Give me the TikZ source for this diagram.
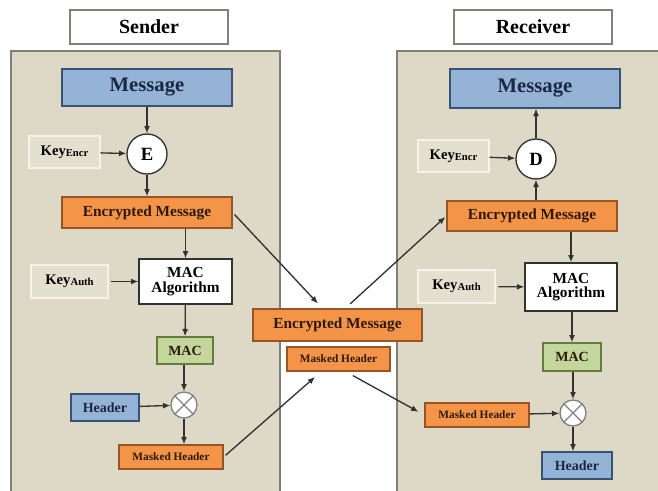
\documentclass[tikz,border=0pt]{standalone}
\usepackage{fontspec}
\setmainfont{Liberation Serif}
\usetikzlibrary{arrows.meta}

\definecolor{panelfill}{RGB}{221,217,198}
\definecolor{paneledge}{RGB}{128,128,122}
\definecolor{bluefill}{RGB}{149,179,215}
\definecolor{blueedge}{RGB}{56,82,115}
\definecolor{orangefill}{RGB}{244,148,72}
\definecolor{orangeedge}{RGB}{150,85,35}
\definecolor{greenfill}{RGB}{195,214,155}
\definecolor{greenedge}{RGB}{100,125,60}
\definecolor{keyfill}{RGB}{228,224,207}
\definecolor{keyedge}{RGB}{245,243,235}
\definecolor{navytext}{RGB}{28,40,66}
\definecolor{browntext}{RGB}{45,25,10}
\definecolor{linegray}{RGB}{50,50,50}

\tikzset{every picture/.style={line width=0.75pt}}
\tikzset{
  titlebox/.style={draw=paneledge,fill=white,line width=1pt,inner sep=0pt,font=\fontsize{15}{16}\selectfont\bfseries},
  bluebox/.style={draw=blueedge,fill=bluefill,line width=1pt,inner sep=0pt,text=navytext,font=\bfseries},
  orangebox/.style={draw=orangeedge,fill=orangefill,line width=1pt,inner sep=0pt,text=browntext,font=\bfseries},
  greenbox/.style={draw=greenedge,fill=greenfill,line width=1pt,inner sep=0pt,text=browntext,font=\fontsize{10.5}{12}\selectfont\bfseries},
  whitebox/.style={draw=linegray,fill=white,line width=1pt,inner sep=0pt,align=center,font=\fontsize{11.5}{13}\selectfont\bfseries},
  keybox/.style={draw=keyedge,fill=keyfill,line width=1pt,inner sep=0pt,font=\fontsize{11}{12}\selectfont\bfseries},
  opcircle/.style={circle,draw=linegray,fill=white,line width=1pt,inner sep=0pt,minimum size=30pt,font=\fontsize{14}{15}\selectfont\bfseries},
  xorcircle/.style={circle,draw=gray,fill=white,line width=1pt,inner sep=0pt,minimum size=19.5pt,
    path picture={\draw[gray,line width=0.9pt] (path picture bounding box.north west) -- (path picture bounding box.south east)
      (path picture bounding box.north east) -- (path picture bounding box.south west);}},
  flow/.style={draw=linegray,line width=1pt,-{Latex[length=5.5pt,width=4.5pt]}}
}
\newcommand{\keyname}[1]{Key\raisebox{-0.8pt}{\fontsize{8}{8}\selectfont #1}}

\begin{document}
\begin{tikzpicture}[x=0.75pt,y=0.75pt,yscale=-1]
\useasboundingbox (0,0) rectangle (658,490);
\clip (0,0) rectangle (658,490);

%Shape: Rectangle (sender panel)
\draw[draw=paneledge,fill=panelfill,line width=2pt] (11,51) rectangle (280,510);
%Shape: Rectangle (receiver panel)
\draw[draw=paneledge,fill=panelfill,line width=2pt] (397,51) rectangle (680,510);

%Sender side
\node[titlebox,minimum width=118.5pt,minimum height=25.5pt] (sTitle) at (149,27) {Sender};
\node[bluebox,minimum width=127.5pt,minimum height=27.75pt,font=\fontsize{15.5}{16}\selectfont\bfseries] (sMsg) at (147,87.5) {Message};
\node[opcircle] (sE) at (147,154) {E};
\node[keybox,minimum width=53.25pt,minimum height=24pt] (sKey) at (64.5,152) {\keyname{Encr}};
\node[orangebox,minimum width=127.5pt,minimum height=23.25pt,font=\fontsize{11.5}{13}\selectfont\bfseries] (sEnc) at (147,212.5) {Encrypted Message};
\node[whitebox,minimum width=69.75pt,minimum height=33.75pt] (sMacAlg) at (185.5,281.5) {MAC\\[-2pt]Algorithm};
\node[keybox,minimum width=57.75pt,minimum height=24.75pt] (sKeyAuth) at (69.5,281.5) {\keyname{Auth}};
\node[greenbox,minimum width=42pt,minimum height=20.25pt] (sMac) at (185,350.5) {MAC};
\node[xorcircle] (sX) at (184,405) {};
\node[bluebox,minimum width=51pt,minimum height=20.25pt,font=\fontsize{10.5}{12}\selectfont\bfseries] (sHdr) at (105,407.5) {Header};
\node[orangebox,minimum width=78pt,minimum height=18pt,font=\fontsize{8.5}{10}\selectfont\bfseries] (sMasked) at (171,457) {Masked Header};

%Channel
\node[orangebox,minimum width=126.75pt,minimum height=24pt,font=\fontsize{11.5}{13}\selectfont\bfseries] (mEnc) at (337.5,325) {Encrypted Message};
\node[orangebox,minimum width=77.25pt,minimum height=18pt,font=\fontsize{8.5}{10}\selectfont\bfseries] (mMasked) at (338.5,359) {Masked Header};

%Receiver side
\node[titlebox,minimum width=118.5pt,minimum height=25.5pt] (rTitle) at (533,27) {Receiver};
\node[bluebox,minimum width=127.5pt,minimum height=29.25pt,font=\fontsize{15.5}{16}\selectfont\bfseries] (rMsg) at (535,88.5) {Message};
\node[opcircle] (rD) at (536,159) {D};
\node[keybox,minimum width=53.25pt,minimum height=24pt] (rKey) at (453.5,156) {\keyname{Encr}};
\node[orangebox,minimum width=127.5pt,minimum height=22.5pt,font=\fontsize{11.5}{13}\selectfont\bfseries] (rEnc) at (532,216) {Encrypted Message};
\node[whitebox,minimum width=69pt,minimum height=36pt] (rMacAlg) at (571,287) {MAC\\[-2pt]Algorithm};
\node[keybox,minimum width=57.75pt,minimum height=24.75pt] (rKeyAuth) at (456.5,286.5) {\keyname{Auth}};
\node[greenbox,minimum width=43.5pt,minimum height=21pt] (rMac) at (572,357) {MAC};
\node[xorcircle] (rX) at (573,413) {};
\node[orangebox,minimum width=78pt,minimum height=18pt,font=\fontsize{8.5}{10}\selectfont\bfseries] (rMasked) at (477,415) {Masked Header};
\node[bluebox,minimum width=52.5pt,minimum height=20.25pt,font=\fontsize{10.5}{12}\selectfont\bfseries] (rHdr) at (577,465.5) {Header};

%Straight Lines (sender)
\draw[flow] (sMsg) -- (sE);
\draw[flow] (sKey) -- (sE);
\draw[flow] (sE) -- (sEnc);
\draw[flow] (sMacAlg.north |- sEnc.south) -- (sMacAlg.north);
\draw[flow,shorten <=2pt] (sKeyAuth) -- (sMacAlg);
\draw[flow] (sMacAlg) -- (sMac);
\draw[flow] (sMac.south -| sX.north) -- (sX);
\draw[flow] (sHdr) -- (sX);
\draw[flow] (sX) -- (sX.south |- sMasked.north);

%Straight Lines (through the channel)
\draw[flow,shorten <=2pt,shorten >=5pt] (sEnc.east) -- (mEnc.132);
\draw[flow,shorten <=2pt,shorten >=6pt] (sMasked.east) -- (mMasked.216);
\draw[flow,shorten <=5pt,shorten >=1pt] (mEnc.65) -- (rEnc.west);
\draw[flow,shorten <=6pt,shorten >=5pt] (mMasked.-60) -- (rMasked.west);

%Straight Lines (receiver)
\draw[flow] (rD.south |- rEnc.north) -- (rD);
\draw[flow] (rD) -- (rD.north |- rMsg.south);
\draw[flow] (rKey) -- (rD);
\draw[flow] (rMacAlg.north |- rEnc.south) -- (rMacAlg.north);
\draw[flow,shorten <=2pt] (rKeyAuth) -- (rMacAlg);
\draw[flow] (rMacAlg.south -| rMac.north) -- (rMac);
\draw[flow] (rMac.south -| rX.north) -- (rX);
\draw[flow] (rMasked) -- (rX);
\draw[flow] (rX) -- (rX.south |- rHdr.north);

\end{tikzpicture}
\end{document}
